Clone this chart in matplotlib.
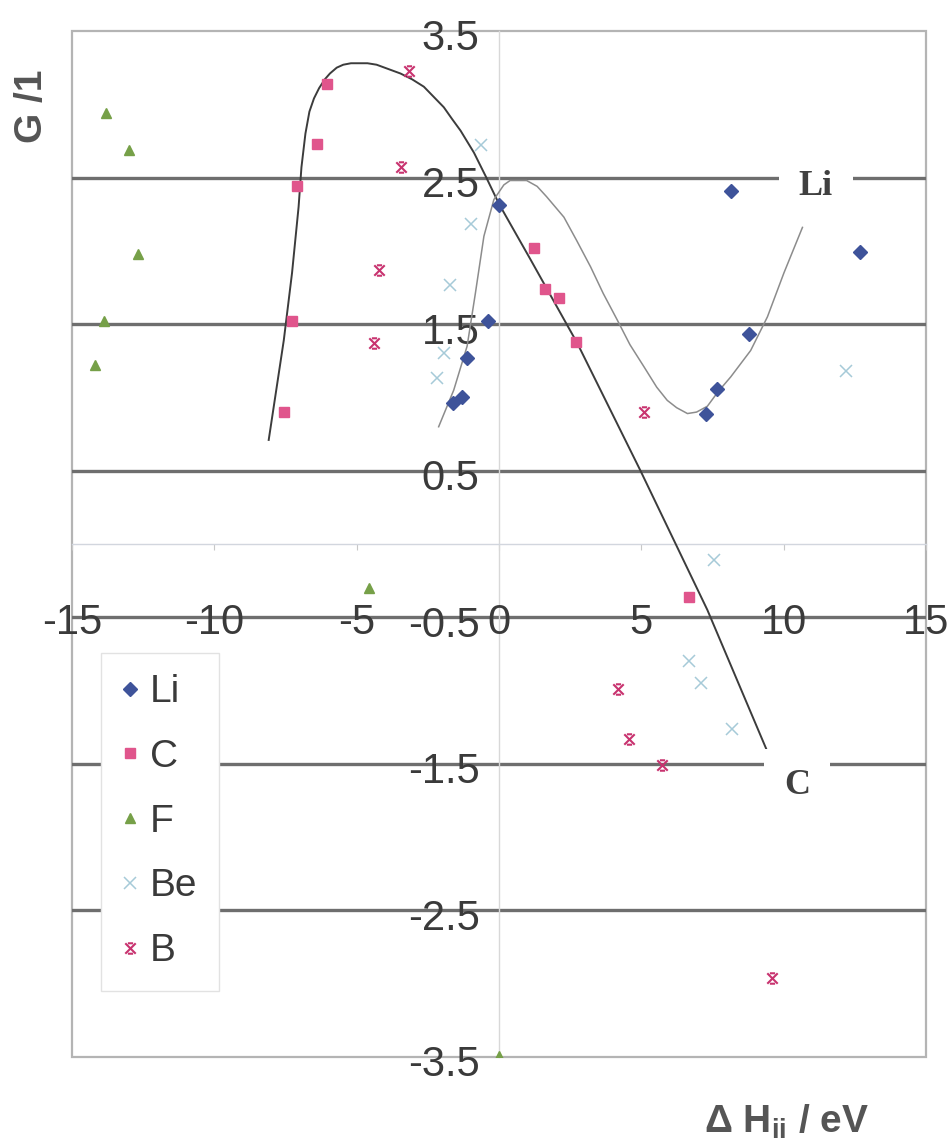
import matplotlib
matplotlib.use("Agg")
import matplotlib.pyplot as plt
from matplotlib.path import Path
from matplotlib.patches import Rectangle
from matplotlib.transforms import ScaledTranslation

# data
li_x = [0.0, -0.37, -1.13, -1.30, -1.60, 8.15, 12.68, 8.78, 7.66, 7.26]
li_y = [2.31, 1.52, 1.27, 1.00, 0.96, 2.41, 1.99, 1.43, 1.06, 0.89]

c_x = [-6.04, -6.38, -7.08, -7.26, -7.57, 1.24, 1.61, 2.12, 2.70, 6.68]
c_y = [3.14, 2.73, 2.44, 1.52, 0.90, 2.02, 1.74, 1.68, 1.38, -0.36]

f_x = [-13.79, -13.0, -12.68, -13.88, -14.2, -4.56, 0.01]
f_y = [2.94, 2.69, 1.98, 1.52, 1.22, -0.30, -3.49]

be_x = [-0.63, -0.97, -1.73, -1.94, -2.17, 12.18, 7.56, 6.68, 7.08, 8.20]
be_y = [2.72, 2.18, 1.77, 1.30, 1.13, 1.18, -0.11, -0.80, -0.95, -1.26]

b_x = [-3.16, -3.45, -4.22, -4.38, 5.11, 4.18, 4.58, 5.71, 9.58]
b_y = [3.23, 2.57, 1.87, 1.37, 0.90, -0.99, -1.33, -1.51, -2.96]

# trendlines, points
c_curve_x = [-8.09, -7.56, -7.27, -7.04, -6.94, -6.80, -6.66, -6.50, -6.32, -6.12,
             -5.94, -5.70, -5.47, -5.20, -4.94, -4.62, -4.30, -3.88, -3.46, -3.05,
             -2.64, -2.29, -1.94, -1.65, -1.35, -0.88, -0.47, 0.0, 1.11, 2.75,
             4.97, 7.32, 9.48]
c_curve_y = [0.71, 1.39, 1.85, 2.30, 2.57, 2.80, 2.95, 3.04, 3.11, 3.17,
             3.21, 3.25, 3.27, 3.28, 3.28, 3.28, 3.27, 3.24, 3.21, 3.17,
             3.12, 3.05, 2.98, 2.90, 2.82, 2.67, 2.51, 2.32, 1.94, 1.37,
             0.50, -0.45, -1.44]

li_curve_x = [-2.12, -1.59, -1.12, -0.83, -0.53, -0.18, 0.17, 0.39, 0.70, 0.97,
              1.34, 1.67, 2.28, 2.73, 3.22, 3.66, 4.15, 4.60, 5.09, 5.54,
              5.91, 6.24, 6.62, 6.94, 7.32, 7.70, 8.14, 8.84, 9.43, 10.01, 10.66]
li_curve_y = [0.80, 1.05, 1.35, 1.71, 2.10, 2.35, 2.45, 2.48, 2.48, 2.48,
              2.44, 2.37, 2.23, 2.07, 1.89, 1.71, 1.53, 1.36, 1.21, 1.07,
              0.98, 0.93, 0.89, 0.90, 0.94, 1.04, 1.14, 1.32, 1.55, 1.85, 2.16]

grid_y = [2.5, 1.5, 0.5, -0.5, -1.5, -2.5]
y_ticks = [3.5, 2.5, 1.5, 0.5, -0.5, -1.5, -2.5, -3.5]
y_labels = ["3.5", "2.5", "1.5", "0.5", "-0.5", "-1.5", "-2.5", "-3.5"]
x_ticks = [-15, -10, -5, 0, 5, 10, 15]
x_labels = ["-15", "-10", "-5", "0", "5", "10", "15"]

plt.rcParams["font.family"] = ["Liberation Sans", "DejaVu Sans"]
plt.rcParams["mathtext.fontset"] = "custom"
plt.rcParams["mathtext.rm"] = "Liberation Sans"
plt.rcParams["mathtext.bf"] = "Liberation Sans:bold"

txt = "#3a3a3a"

fig = plt.figure(figsize=(9.53, 11.46), dpi=100)
ax = fig.add_axes([72 / 953, 89 / 1146, 854 / 953, 1026 / 1146])
ax.set_xlim(-15, 15)
ax.set_ylim(-3.5, 3.5)

# axes crossing at zero, thin frame round the plot area
for side in ["top", "right"]:
    ax.spines[side].set_visible(False)
ax.spines["left"].set_position(("data", 0))
ax.spines["bottom"].set_position(("data", 0))
ax.spines["left"].set_color("#d8d8d8")
ax.spines["bottom"].set_color("#d2d6de")
ax.spines["left"].set_linewidth(1.0)
ax.spines["bottom"].set_linewidth(1.0)
ax.add_patch(Rectangle((0, 0), 1, 1, transform=ax.transAxes, fill=False,
                       ec="#b4b4b4", lw=1.6, clip_on=False, zorder=0.5))

for g in grid_y:
    ax.axhline(g, color="#6e6e6e", lw=2.4, zorder=1)

ax.set_yticks(y_ticks)
ax.set_yticklabels(y_labels)
ax.tick_params(axis="y", length=0, pad=14, labelsize=30, labelcolor=txt)
shift = ScaledTranslation(0, -4 / 100, fig.dpi_scale_trans)
for lbl in ax.get_yticklabels():
    lbl.set_transform(lbl.get_transform() + shift)

# x tick labels sit on the -0.5 gridline in the original
ax.set_xticks(x_ticks)
ax.tick_params(axis="x", direction="out", length=4, color="#c8c8c8", labelbottom=False)
for xv, lab in zip(x_ticks, x_labels):
    ax.text(xv, -0.54, lab, ha="center", va="center", fontsize=30, color=txt, zorder=3)

# trendlines
ax.plot(c_curve_x, c_curve_y, color="#3c3c3c", lw=1.4, zorder=4)
ax.plot(li_curve_x, li_curve_y, color="#8c8c8c", lw=1.1, zorder=4)

b_marker = Path([(-1, -1), (1, 1), (-1, 1), (1, -1),
                 (-0.5, 1), (0.5, 1), (-0.5, -1), (0.5, -1)],
                [Path.MOVETO, Path.LINETO] * 4)

ax.plot(li_x, li_y, ls="none", marker="D", ms=7, color="#3e539a", label="Li", zorder=5)
ax.plot(c_x, c_y, ls="none", marker="s", ms=7, color="#e0558c", label="C", zorder=5)
ax.plot(f_x, f_y, ls="none", marker="^", ms=7, color="#76a048", label="F", zorder=5)
ax.plot(be_x, be_y, ls="none", marker="x", ms=8, mew=1.1, color="#a6cad8", label="Be", zorder=5)
ax.plot(b_x, b_y, ls="none", marker=b_marker, ms=7.5, mew=1.5, color="#c8336f", label="B", zorder=5)

ax.text(11.13, 2.44, "Li", family="Liberation Serif", fontweight="bold", fontsize=26,
        color="#404040", ha="center", va="center", zorder=6,
        bbox=dict(boxstyle="square,pad=0.55", fc="white", ec="none"))
ax.text(10.47, -1.65, "C", family="Liberation Serif", fontweight="bold", fontsize=26,
        color="#404040", ha="center", va="center", zorder=6,
        bbox=dict(boxstyle="square,pad=0.55", fc="white", ec="none"))

leg = ax.legend(loc="upper left", bbox_to_anchor=(0.034, 0.394), borderaxespad=0,
                frameon=True, fancybox=False, edgecolor="#e2e2e2", framealpha=1,
                fontsize=28, numpoints=1, handlelength=0.4, handletextpad=0.3,
                borderpad=0.55, labelspacing=0.74)
for t in leg.get_texts():
    t.set_color(txt)
leg.set_zorder(7)

fig.text(31.7 / 953, 1 - 106.7 / 1146, "G /1", rotation=90, ha="center", va="center",
         fontsize=28, fontweight="bold", color="#555555")
fig.text(786.7 / 953, 1 - 1121.7 / 1146, r"Δ H$_{\mathbf{ii}}$ / eV", ha="center", va="center",
         fontsize=28, fontweight="bold", color="#555555")

fig.savefig("out.png", dpi=100)
